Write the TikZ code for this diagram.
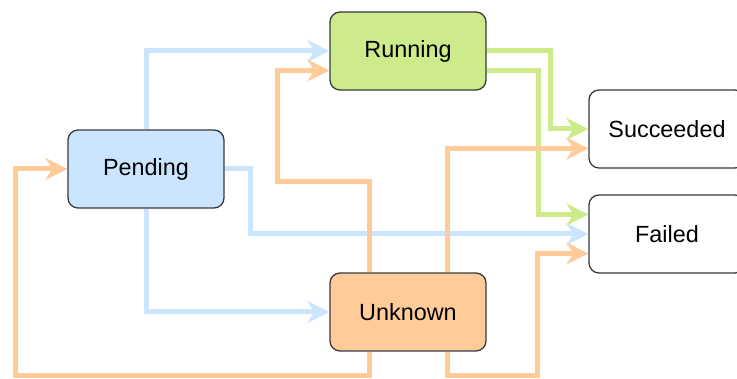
\documentclass[tikz,border=0pt]{standalone}
\usepackage{fontspec}
\setmainfont{Liberation Sans}
\usepackage{tikz}
\usetikzlibrary{arrows.meta}
\definecolor{pendingblue}{HTML}{CCE5FF}
\definecolor{runninggreen}{HTML}{CDEB8B}
\definecolor{unknownorange}{HTML}{FFCC99}
\definecolor{boxgray}{HTML}{36393D}
\tikzset{
	state/.style={draw=boxgray, line width=1.3pt, rounded corners=10pt, minimum width=156pt, minimum height=78pt, inner sep=0pt, font=\fontsize{23.4}{28}\selectfont},
	link/.style={line width=5pt, -{Stealth[length=22pt, width=22pt, inset=7pt]}},
}

\begin{document}
\begin{tikzpicture}[x=1pt, y=1pt]
		%%%%% START %%%%%
		
		\useasboundingbox (0, 0) rectangle (737, 379);
		\clip (0, 0) rectangle (737, 379);
		
		\node[state, fill=pendingblue] (pending) at (146, 210) {Pending};
		\node[state, fill=runninggreen] (running) at (408, 328) {Running};
		\node[state, fill=unknownorange] (unknown) at (408, 67) {Unknown};
		\node[state, fill=white] (succeeded) at (667, 250) {Succeeded};
		\node[state, fill=white] (failed) at (667, 145) {Failed};
		
		% from Pending
		\draw[link, pendingblue] (pending.north) |- (running.west);
		\draw[link, pendingblue] (pending.east) -- ++(26, 0) |- (failed.west);
		\draw[link, pendingblue] (pending.south) |- (unknown.west);
		
		% from Running
		\draw[link, runninggreen] (running.east) -- ++(64, 0) |- (succeeded.west);
		\draw[link, runninggreen] ([yshift=-19.5pt]running.east) -- ++(52, 0) |- ([yshift=19.5pt]failed.west);
		
		% from Unknown
		\draw[link, unknownorange] ([xshift=-39pt]unknown.north) -- ++(0, 91) -| ([xshift=-52pt, yshift=-19.5pt]running.west) -- ([yshift=-19.5pt]running.west);
		\draw[link, unknownorange] ([xshift=39pt]unknown.north) |- ([yshift=-19.5pt]succeeded.west);
		\draw[link, unknownorange] ([xshift=39pt]unknown.south) -- ++(0, -24) -| ([xshift=-51pt, yshift=-19.5pt]failed.west) -- ([yshift=-19.5pt]failed.west);
		\draw[link, unknownorange] ([xshift=-39pt]unknown.south) -- ++(0, -24) -| ([xshift=-52pt]pending.west) -- (pending.west);
		
		%%%%% END %%%%%
	\end{tikzpicture}
\end{document}
